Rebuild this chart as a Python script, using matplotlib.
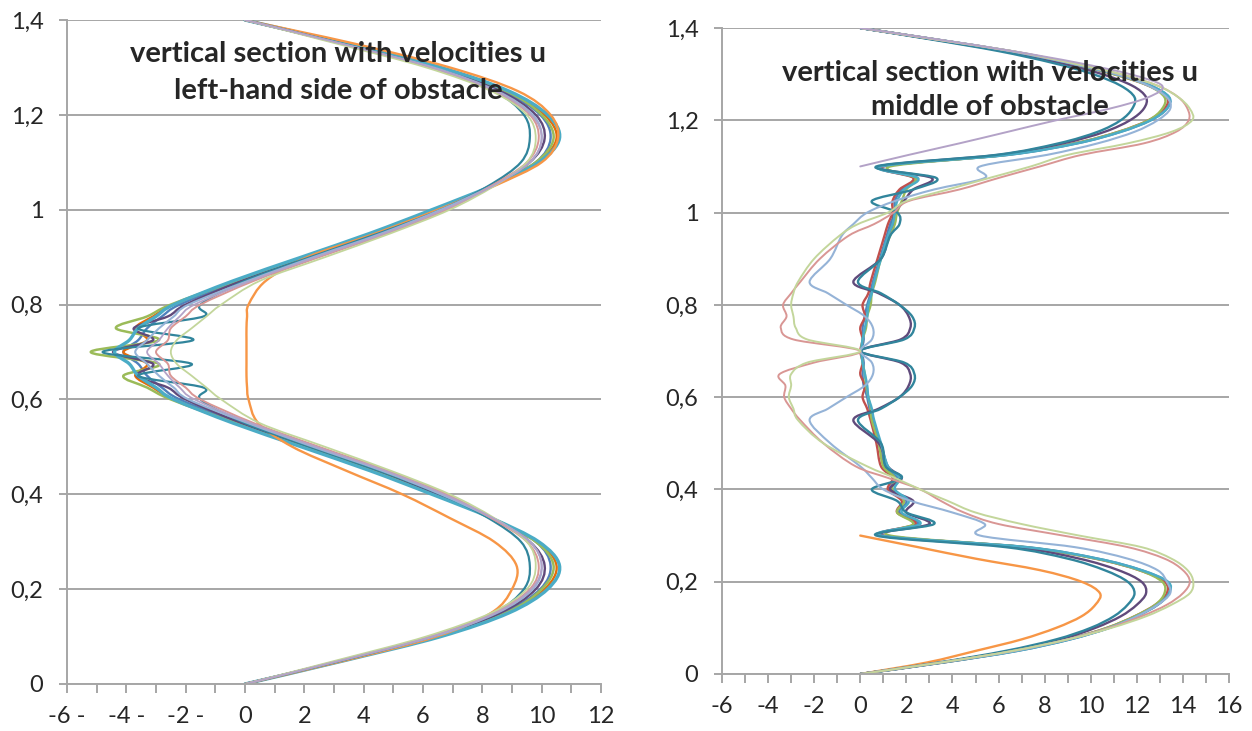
import numpy as np
import matplotlib
matplotlib.use("Agg")
import matplotlib.pyplot as plt
from matplotlib.path import Path
from matplotlib.patches import PathPatch

plt.rcParams['font.family'] = ['Lato', 'DejaVu Sans']

# ---------------- left panel: left-hand side of obstacle ----------------
Y_LEFT = [0, 0.05, 0.1, 0.15, 0.2, 0.25, 0.3, 0.35, 0.4, 0.45, 0.5, 0.55,
          0.6, 0.625, 0.65, 0.675, 0.7, 0.725, 0.75, 0.775, 0.8,
          0.85, 0.9, 0.95, 1.0, 1.05, 1.1, 1.15, 1.2, 1.25, 1.3, 1.35, 1.4]

left_blue = [0, 3.3, 6.45, 8.7, 9.95, 10.3, 9.8, 8.3, 6.5, 4.4, 2.1, -0.2,
             -2.2, -2.8, -3.3, -3.6, -4.1, -3.6, -3.3, -2.8, -2.2,
             -0.2, 2.1, 4.4, 6.5, 8.3, 9.8, 10.3, 9.95, 8.7, 6.45, 3.3, 0]
left_red = [0, 3.35, 6.55, 8.85, 10.1, 10.5, 9.85, 8.3, 6.4, 4.3, 2.0, -0.35,
            -2.4, -3.1, -3.7, -3.3, -4.1, -3.3, -3.7, -3.1, -2.4,
            -0.35, 2.0, 4.3, 6.4, 8.3, 9.85, 10.5, 10.1, 8.85, 6.55, 3.35, 0]
left_green = [0, 3.3, 6.5, 8.8, 10.0, 10.4, 9.8, 8.3, 6.4, 4.3, 2.0, -0.3,
              -2.5, -3.3, -4.1, -2.9, -5.2, -2.9, -4.35, -3.3, -2.5,
              -0.3, 2.0, 4.3, 6.4, 8.3, 9.8, 10.4, 10.0, 8.8, 6.5, 3.3, 0]
left_purple = [0, 3.3, 6.4, 8.6, 9.8, 10.1, 9.6, 8.3, 6.5, 4.5, 2.2, -0.1,
               -2.0, -2.6, -3.65, -3.1, -4.45, -3.1, -3.75, -2.6, -2.0,
               -0.1, 2.2, 4.5, 6.5, 8.3, 9.6, 10.1, 9.8, 8.6, 6.4, 3.3, 0]
left_aqua = [0, 3.4, 6.6, 8.9, 10.2, 10.6, 9.9, 8.3, 6.3, 4.2, 1.9, -0.4,
             -2.4, -3.0, -3.6, -3.9, -4.4, -3.9, -3.6, -3.0, -2.4,
             -0.4, 1.9, 4.2, 6.3, 8.3, 9.9, 10.6, 10.2, 8.9, 6.6, 3.4, 0]
left_orange = [0, 3.4, 6.45, 8.3, 9.0, 9.15, 8.4, 6.9, 5.3, 3.4, 1.6, 0.45,
               0.12, 0.07, 0.05, 0.05, 0.05, 0.05, 0.05, 0.07, 0.12,
               0.7, 2.1, 4.4, 6.5, 8.4, 10.0, 10.55, 10.3, 9.2, 6.9, 3.7, 0]
left_teal = [0, 3.3, 6.3, 8.4, 9.4, 9.6, 9.3, 8.2, 6.6, 4.5, 2.2, 0.0,
             -1.5, -1.4, -3.6, -1.8, -4.8, -1.75, -3.6, -1.4, -1.5,
             0.0, 2.2, 4.5, 6.6, 8.2, 9.3, 9.6, 9.4, 8.4, 6.3, 3.3, 0]
left_ltblue = [0, 3.25, 6.35, 8.5, 9.7, 10.0, 9.6, 8.3, 6.6, 4.6, 2.3, 0.1,
               -1.9, -2.4, -2.9, -3.3, -3.7, -3.3, -2.9, -2.4, -1.9,
               0.1, 2.3, 4.6, 6.6, 8.3, 9.6, 10.0, 9.7, 8.5, 6.35, 3.25, 0]
left_pink = [0, 3.2, 6.25, 8.4, 9.6, 9.9, 9.5, 8.3, 6.8, 4.8, 2.5, 0.3,
             -1.5, -2.0, -2.5, -2.6, -3.0, -2.6, -2.5, -2.0, -1.5,
             0.3, 2.5, 4.8, 6.8, 8.3, 9.5, 9.9, 9.6, 8.4, 6.25, 3.2, 0]
left_ltgreen = [0, 3.1, 6.1, 8.3, 9.5, 9.8, 9.5, 8.4, 6.9, 4.9, 2.7, 0.5,
                -0.8, -1.3, -1.8, -2.3, -2.5, -2.3, -1.8, -1.3, -0.8,
                0.5, 2.7, 4.9, 6.9, 8.4, 9.5, 9.8, 9.5, 8.3, 6.1, 3.1, 0]
left_ltpurple = [0, 3.25, 6.3, 8.45, 9.65, 10.0, 9.6, 8.35, 6.7, 4.7, 2.4, 0.2,
                 -1.7, -2.2, -2.6, -2.9, -3.3, -2.9, -2.6, -2.2, -1.7,
                 0.2, 2.4, 4.7, 6.7, 8.35, 9.6, 10.0, 9.65, 8.45, 6.3, 3.25, 0]

# ---------------- right panel: middle of obstacle ----------------
Y_RIGHT = [0, 0.025, 0.05, 0.075, 0.1, 0.125, 0.15, 0.175, 0.2, 0.225, 0.25, 0.275, 0.3,
           0.325, 0.35, 0.375, 0.4, 0.425, 0.45, 0.5, 0.55,
           0.575, 0.6, 0.625, 0.65, 0.675, 0.7, 0.725, 0.75, 0.775, 0.8, 0.825, 0.85,
           0.9, 0.95,
           0.975, 1.0, 1.025, 1.05, 1.075, 1.1,
           1.125, 1.15, 1.175, 1.2, 1.225, 1.25, 1.275, 1.3, 1.325, 1.35, 1.375, 1.4]

right_blue = [0, 3.6, 6.8, 9.1, 10.8, 12.0, 12.9, 13.4, 13.3, 12.2, 10.3, 7.2, 1.0,
              2.5, 1.7, 2.0, 1.3, 1.6, 1.1, 0.8, 0.55,
              0.4, 0.3, 0.15, 0.1, 0.15, 0.05, 0.15, 0.1, 0.2, 0.3, 0.45, 0.55,
              0.85, 1.15,
              1.3, 1.5, 1.5, 1.8, 2.4, 1.0,
              6.4, 9.4, 11.3, 12.6, 13.3, 13.4, 12.6, 11.1, 9.0, 6.5, 3.3, 0]
right_red = [0, 3.6, 6.7, 9.0, 10.7, 11.9, 12.8, 13.3, 13.2, 12.1, 10.2, 7.1, 1.0,
             2.4, 1.6, 1.8, 1.2, 1.4, 0.9, 0.7, 0.45,
             0.3, 0.1, 0.2, 0.0, 0.1, 0.0, 0.1, 0.0, 0.2, 0.1, 0.35, 0.45,
             0.75, 1.05,
             1.2, 1.4, 1.4, 1.7, 2.3, 1.0,
             6.3, 9.3, 11.2, 12.5, 13.2, 13.3, 12.5, 11.0, 8.9, 6.4, 3.3, 0]
right_green = [0, 3.5, 6.7, 9.0, 10.7, 11.9, 12.8, 13.2, 13.1, 12.1, 10.2, 7.1, 1.3,
               2.3, 1.6, 1.9, 1.4, 1.5, 1.0, 0.8, 0.5,
               0.45, 0.35, 0.25, 0.2, 0.1, 0.05, 0.1, 0.25, 0.3, 0.45, 0.5, 0.65,
               0.9, 1.3,
               1.5, 1.6, 1.8, 2.0, 2.4, 1.3,
               6.3, 9.3, 11.2, 12.5, 13.1, 13.2, 12.5, 11.0, 8.9, 6.4, 3.3, 0]
right_purple = [0, 3.5, 6.5, 8.7, 10.2, 11.3, 12.0, 12.4, 12.2, 11.2, 9.5, 6.7, 0.9,
                3.0, 2.0, 2.3, 1.3, 1.8, 1.2, 0.8, -0.3,
                0.8, 1.7, 2.1, 2.17, 1.75, 0.0, 1.75, 2.17, 2.1, 1.7, 0.8, -0.3,
                0.9, 1.2,
                1.4, 1.5, 1.9, 2.3, 3.1, 0.8,
                6.0, 8.8, 10.6, 11.7, 12.3, 12.4, 11.8, 10.5, 8.6, 6.2, 3.2, 0]
right_aqua = [0, 3.6, 6.8, 9.1, 10.8, 12.0, 12.9, 13.4, 13.35, 12.2, 10.3, 7.2, 0.9,
              2.6, 1.8, 2.1, 1.5, 1.7, 1.2, 0.9, 0.6,
              0.5, 0.35, 0.3, 0.2, 0.1, 0.05, 0.1, 0.2, 0.3, 0.35, 0.5, 0.6,
              0.9, 1.2,
              1.4, 1.5, 1.6, 1.9, 2.5, 0.9,
              6.4, 9.4, 11.3, 12.6, 13.3, 13.4, 12.6, 11.1, 9.0, 6.5, 3.3, 0]
right_teal = [0, 3.4, 6.3, 8.5, 10.0, 11.0, 11.6, 11.9, 11.6, 10.6, 9.0, 6.3, 0.7,
              3.2, 2.0, 1.6, 0.5, 1.8, 1.1, 0.9, -0.1,
              0.9, 1.7, 2.25, 2.35, 1.9, 0.0, 1.9, 2.35, 2.25, 1.7, 0.9, -0.1,
              0.9, 1.3,
              1.7, 1.6, 0.5, 2.3, 3.3, 0.7,
              5.9, 8.6, 10.3, 11.3, 11.8, 11.9, 11.3, 10.1, 8.3, 6.0, 3.1, 0]
right_ltblue = [0, 3.5, 6.7, 9.0, 10.8, 12.0, 12.9, 13.45, 13.3, 12.9, 11.6, 9.3, 5.2,
                5.4, 4.0, 2.2, 1.0, 0.5, 0.0, -1.3, -2.2,
                -1.4, -0.6, 0.2, 0.55, 0.5, 0.0, 0.5, 0.55, 0.2, -0.6, -1.4, -2.2,
                -1.3, -0.8,
                -0.3, 0.3, 1.5, 3.2, 5.4, 5.2,
                8.1, 10.3, 11.9, 12.9, 13.45, 13.3, 12.5, 11.1, 9.0, 6.5, 3.3, 0]
right_pink = [0, 3.5, 6.6, 9.0, 10.8, 12.2, 13.3, 14.0, 14.3, 14.0, 13.2, 11.6, 8.8,
              6.0, 4.5, 3.5, 2.6, 1.2, -0.2, -1.6, -2.6,
              -3.0, -3.3, -3.25, -3.5, -2.0, 0.0, -2.9, -3.45, -3.2, -3.35, -3.0, -2.6,
              -1.75, -0.5,
              0.6, 1.45, 2.1, 4.3, 6.0, 7.8,
              9.6, 12.3, 13.7, 14.25, 14.2, 13.8, 12.9, 11.3, 9.1, 6.6, 3.3, 0]
right_ltgreen = [0, 3.5, 6.6, 9.0, 10.9, 12.4, 13.5, 14.3, 14.45, 14.2, 13.5, 12.2, 9.5,
                 7.0, 5.0, 3.8, 2.6, 1.5, 0.3, -1.6, -2.7,
                 -2.9, -3.1, -3.0, -3.0, -2.3, 0.0, -2.3, -2.8, -2.9, -3.0, -2.9, -2.7,
                 -2.0, -0.9,
                 -0.1, 1.2, 2.0, 3.8, 5.6, 7.4,
                 9.0, 11.6, 13.5, 14.4, 14.3, 13.8, 12.9, 11.3, 9.1, 6.6, 3.3, 0]

Y_ORANGE = [0, 0.025, 0.05, 0.075, 0.1, 0.125, 0.15, 0.175, 0.2, 0.225, 0.25, 0.275, 0.3]
right_orange = [0, 2.9, 5.0, 7.0, 8.5, 9.6, 10.2, 10.4, 9.6, 7.8, 5.0, 2.5, 0.0]
Y_LTPURPLE = [1.1, 1.125, 1.15, 1.175, 1.2, 1.225, 1.25, 1.275, 1.3, 1.325, 1.35, 1.375, 1.4]
right_ltpurple = [0, 2.1, 4.3, 6.4, 8.5, 10.8, 12.5, 13.1, 11.7, 9.4, 6.6, 3.4, 0]

Y_TICKS = [0, 0.2, 0.4, 0.6, 0.8, 1.0, 1.2, 1.4]
Y_LABELS = ['0', '0,2', '0,4', '0,6', '0,8', '1', '1,2', '1,4']
X_LABELS_LEFT = ['-6 -', '', '-4 -', '', '-2 -', '', '0', '', '2', '', '4', '', '6', '',
                 '8', '', '10', '', '12']
X_LABELS_RIGHT = ['-6', '', '-4', '', '-2', '', '0', '', '2', '', '4', '', '6', '', '8', '',
                  '10', '', '12', '', '14', '', '16']

TITLE_LEFT = 'vertical section with velocities u\nleft-hand side of obstacle'
TITLE_RIGHT = 'vertical section with velocities u\nmiddle of obstacle'

GRID = '#A6A6A6'
TXT = '#262626'


def smooth_line(ax, xs, ys, color, lw):
    # excel-like smoothed line through the points
    pts = np.column_stack([xs, ys]).astype(float)
    n = len(pts)
    verts = [pts[0]]
    codes = [Path.MOVETO]
    for i in range(n - 1):
        p0 = pts[max(i - 1, 0)]
        p1 = pts[i]
        p2 = pts[i + 1]
        p3 = pts[min(i + 2, n - 1)]
        verts += [p1 + (p2 - p0) / 6.0, p2 - (p3 - p1) / 6.0, p2]
        codes += [Path.CURVE4] * 3
    ax.add_patch(PathPatch(Path(verts, codes), fill=False, edgecolor=color,
                           lw=lw, joinstyle='round', capstyle='round'))


def style_axes(ax, xmin, xmax, xlabels):
    ax.set_xlim(xmin, xmax)
    ax.set_ylim(0, 1.4)
    ax.spines['top'].set_visible(False)
    ax.spines['right'].set_visible(False)
    for s in ['left', 'bottom']:
        ax.spines[s].set_color(GRID)
        ax.spines[s].set_linewidth(1.4)
    ax.set_yticks(Y_TICKS)
    ax.set_yticklabels(Y_LABELS)
    ax.set_xticks(range(xmin, xmax + 1))
    ax.set_xticklabels(xlabels)
    ax.yaxis.grid(True, color=GRID, linewidth=1.4)
    ax.set_axisbelow(True)
    ax.tick_params(axis='y', length=6, width=1.4, color=GRID, pad=11,
                   labelsize=17, labelcolor=TXT)
    ax.tick_params(axis='x', length=6.5, width=1.4, color=GRID, pad=9,
                   labelsize=17, labelcolor=TXT)


fig = plt.figure(figsize=(12.52, 7.31), dpi=100)
axL = fig.add_axes([67 / 1252, 47 / 731, 534 / 1252, 664 / 731])
axR = fig.add_axes([722 / 1252, 57 / 731, 507 / 1252, 646 / 731])

left_series = [
    (left_blue, '#4F81BD', 1.7),
    (left_red, '#E46C0A', 1.7),
    (left_green, '#9BBB59', 1.8),
    (left_purple, '#604A7B', 1.7),
    (left_aqua, '#4BACC6', 2.4),
    (left_orange, '#F79646', 1.7),
    (left_teal, '#31859C', 1.6),
    (left_ltblue, '#95B3D7', 1.5),
    (left_pink, '#D99694', 1.4),
    (left_ltgreen, '#C3D69B', 1.3),
    (left_ltpurple, '#B3A2C7', 1.3),
]
for xs, c, lw in left_series:
    smooth_line(axL, xs, Y_LEFT, c, lw)

right_series = [
    (right_blue, Y_RIGHT, '#4F81BD', 1.7),
    (right_red, Y_RIGHT, '#C0504D', 1.7),
    (right_green, Y_RIGHT, '#9BBB59', 1.7),
    (right_purple, Y_RIGHT, '#604A7B', 1.7),
    (right_aqua, Y_RIGHT, '#4BACC6', 1.8),
    (right_orange, Y_ORANGE, '#F79646', 1.7),
    (right_teal, Y_RIGHT, '#31859C', 1.7),
    (right_ltblue, Y_RIGHT, '#95B3D7', 1.5),
    (right_pink, Y_RIGHT, '#D99694', 1.4),
    (right_ltgreen, Y_RIGHT, '#C3D69B', 1.4),
    (right_ltpurple, Y_LTPURPLE, '#B3A2C7', 1.4),
]
for xs, ys, c, lw in right_series:
    smooth_line(axR, xs, ys, c, lw)

style_axes(axL, -6, 12, X_LABELS_LEFT)
style_axes(axR, -6, 16, X_LABELS_RIGHT)

fig.text(338 / 1252, 1 - 72.5 / 731, TITLE_LEFT, ha='center', va='center',
         fontsize=21, fontweight='bold', color=TXT, linespacing=1.5)
fig.text(990 / 1252, 1 - 90 / 731, TITLE_RIGHT, ha='center', va='center',
         fontsize=21, fontweight='bold', color=TXT, linespacing=1.38)

fig.savefig('out.png', dpi=100, facecolor='white')
